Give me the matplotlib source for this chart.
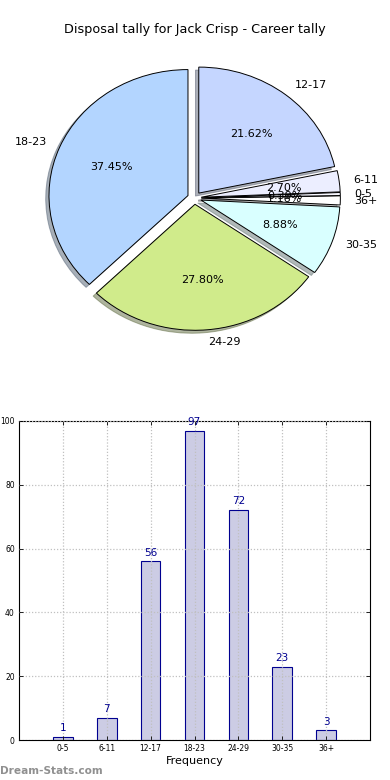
import matplotlib
matplotlib.use("Agg")
import matplotlib.pyplot as plt

categories = ["0-5", "6-11", "12-17", "18-23", "24-29", "30-35", "36+"]
counts = [1, 7, 56, 97, 72, 23, 3]
pie_order = ["18-23", "24-29", "30-35", "36+", "0-5", "6-11", "12-17"]
pie_colors = {"18-23": "#b3d5ff", "24-29": "#d0eb8b", "30-35": "#d9ffff",
              "36+": "#ffffff", "0-5": "#f7f7ff", "6-11": "#eceeff", "12-17": "#c5d6ff"}
yticks = [0, 20, 40, 60, 80, 100]

fig = plt.figure(figsize=(3.9, 7.8), dpi=100)
fig.text(0.5, 1 - 30/780, "Disposal tally for Jack Crisp - Career tally",
         ha="center", va="center", fontsize=9.2)

# Pie
axp = fig.add_axes([55.4/390, 456/780, 278/390, 252/780])
vals = [counts[categories.index(c)] for c in pie_order]
wedges, texts, autotexts = axp.pie(
    vals, labels=pie_order, colors=[pie_colors[c] for c in pie_order],
    explode=[0.05]*len(vals), startangle=90,
    shadow=dict(ox=-0.017, oy=-0.017, shade=0.55),
    autopct="%1.2f%%", labeldistance=1.1, pctdistance=0.6,
    wedgeprops=dict(edgecolor="black", linewidth=0.7),
    textprops=dict(fontsize=8))
axp.set_aspect("auto")
axp.set_xlim(-1, 1)
axp.set_ylim(-1, 1)
axp.set_position([55.4/390, 456/780, 278/390, 252/780])

# Bars
axb = fig.add_axes([19/390, 40/780, 351/390, 319/780])
x = list(range(len(categories)))
bars = axb.bar(x, counts, width=0.45, color="#ccccE4", edgecolor="#000090",
               linewidth=0.8, zorder=1)
for xi, v in zip(x, counts):
    axb.text(xi, v + 1.2, str(v), ha="center", va="bottom", fontsize=7.5,
             color="#000090")
axb.set_xlim(-1, 7)
axb.set_ylim(0, 100)
axb.set_xticks(x)
axb.set_xticklabels(categories, fontsize=5.5)
axb.set_yticks(yticks)
axb.set_yticklabels([str(t) for t in yticks], fontsize=5.5)
axb.tick_params(direction="in", length=3, width=0.6, top=True, right=True, pad=3)
axb.grid(True, linestyle=(0, (1, 1.5)), color="#c0c0c0", linewidth=0.9, zorder=3)
axb.set_axisbelow(False)
axb.set_xlabel("Frequency", fontsize=8, labelpad=2)
for s in axb.spines.values():
    s.set_linewidth(0.8)

fig.text(0.0, 1 - 771/780, "Dream-Stats.com", ha="left", va="center",
         fontsize=7.6, color="#909090", fontweight="bold")

fig.savefig("out.png", dpi=100)
